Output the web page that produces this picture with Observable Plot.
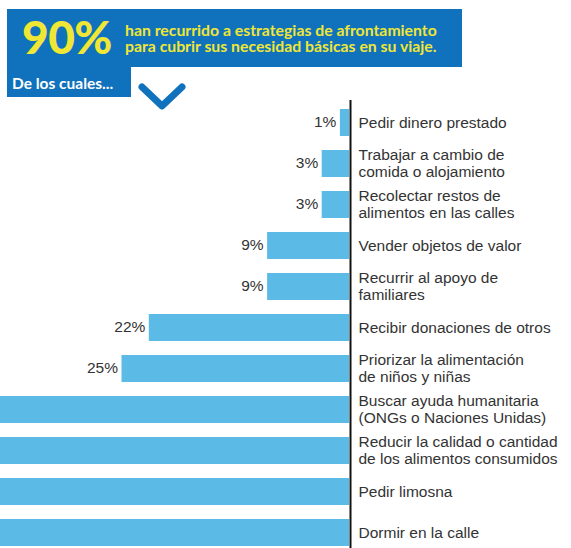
<!DOCTYPE html>
<html>
<head>
<meta charset="utf-8">
<script src="https://cdn.jsdelivr.net/npm/d3@7"></script>
<script src="https://cdn.jsdelivr.net/npm/@observablehq/plot@0.6"></script>
<style>
  html, body { margin: 0; padding: 0; background: #fff; }
  body { width: 571px; height: 548px; position: relative; overflow: hidden; }
  .hdr { position: absolute; background: #1072BC; }
  .big { position: absolute; left: 22px; top: 14px; font-family: Lato, sans-serif; font-weight: 900; font-size: 46px; line-height: 46px; color: #EFE636; letter-spacing: -0.5px; }
  .sub { position: absolute; left: 125px; font-family: Lato, sans-serif; font-weight: 700; font-size: 15.8px; line-height: 16px; color: #EFE636; white-space: nowrap; }
  .cuales { position: absolute; left: 12px; top: 76px; font-family: Lato, sans-serif; font-weight: 700; font-size: 15.5px; line-height: 15.5px; color: #fff; white-space: nowrap; }
  #chart { position: absolute; left: 0; top: 100px; }
  #chev { position: absolute; left: 0; top: 0; }
</style>
</head>
<body>
<div class="hdr" style="left:7px;top:9px;width:455px;height:58px;"></div>
<div class="hdr" style="left:7px;top:66px;width:124px;height:31px;"></div>
<div class="big">90%</div>
<div class="sub" style="top:22px;">han recurrido a estrategias de afrontamiento</div>
<div class="sub" style="top:37.5px;">para cubrir sus necesidad básicas en su viaje.</div>
<div class="cuales">De los cuales...</div>
<svg id="chev" width="571" height="120"><polyline points="142,87 162,106 182,87" fill="none" stroke="#1072BC" stroke-width="7" stroke-linecap="round" stroke-linejoin="round"/></svg>
<div id="chart"></div>
<script>
const categories = [
  "Pedir dinero prestado",
  "Trabajar a cambio de\ncomida o alojamiento",
  "Recolectar restos de\nalimentos en las calles",
  "Vender objetos de valor",
  "Recurrir al apoyo de\nfamiliares",
  "Recibir donaciones de otros",
  "Priorizar la alimentación\nde niños y niñas",
  "Buscar ayuda humanitaria\n(ONGs o Naciones Unidas)",
  "Reducir la calidad o cantidad\nde los alimentos consumidos",
  "Pedir limosna",
  "Dormir en la calle"
];
// last four values are cut off in the reference (they exceed ~38%); estimated
const values = [1, 3, 3, 9, 9, 22, 25, 41, 46, 52, 60];

const data = categories.map((label, i) => ({label, value: values[i]}));
const xMax = 40;

const chart = Plot.plot({
  width: 571,
  height: 448,
  marginLeft: 0, marginRight: 0, marginTop: 0, marginBottom: 0,
  style: {fontFamily: "'Liberation Sans', Arial, sans-serif", fontSize: "15.5px", background: "transparent", overflow: "hidden"},
  x: {domain: [0, xMax], range: [349, 349 - 9.1 * xMax], axis: null},
  y: {domain: categories, range: [9, 447], paddingInner: 0.33, paddingOuter: 0, axis: null},
  marks: [
    Plot.barX(data, {x: "value", y: "label", fill: "#5BBBE6"}),
    // percentage labels only where they fall inside the visible frame (as in the reference)
    Plot.text(data.filter(d => d.value < 37), {x: "value", y: "label", text: d => d.value + "%", textAnchor: "end", dx: -4, dy: -1, fontSize: 15.5, fill: "#333"}),
    Plot.text(data, {x: 0, y: "label", text: "label", textAnchor: "start", dx: 9, dy: -1, fontSize: 15.5, lineHeight: 1.12, fill: "#333"}),
    Plot.ruleX([0], {stroke: "#111", strokeWidth: 2, dx: 1})
  ]
});
document.getElementById("chart").appendChild(chart);
</script>
</body>
</html>
